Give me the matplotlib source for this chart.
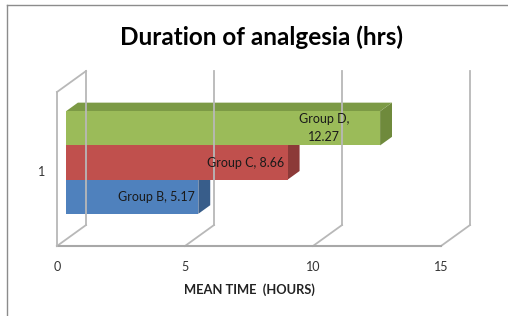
"""Duration of analgesia - Excel-style 3D horizontal bar chart."""

import matplotlib
matplotlib.use("Agg")
import matplotlib.pyplot as plt
from matplotlib.patches import Polygon
from matplotlib.lines import Line2D

# Data
groups = ["Group B", "Group C", "Group D"]
mean_hours = [5.17, 8.66, 12.27]
category_labels = ["1"]
x_ticks = [0, 5, 10, 15]
front_colors = ["#4F81BD", "#C0504D", "#9BBB59"]
side_colors = ["#385D8A", "#8C3A38", "#6F8A3C"]
top_colors = ["#44709F", "#A64542", "#7C9A45"]

plt.rcParams["font.family"] = ["Lato", "DejaVu Sans"]

# 3D projection parameters (depth shift in data units)
DX = 1.133   # hours shifted to the right per full depth
DY = 0.136   # height units shifted up per full depth
BAR_D0, BAR_D1 = 0.31, 0.72
GAP = 0.167


def proj(x, h, d):
    return (x + d * DX, h + d * DY)


fig = plt.figure(figsize=(5.08, 3.16), dpi=100)
ax = fig.add_axes([0, 0, 1, 1])
ax.set_xlim(-57 / 25.6, (508 - 57) / 25.6)
ax.set_ylim(-70 / 154, 246 / 154)
ax.axis("off")

grid_c = "#B8B8B8"
xmax = x_ticks[-1]

# back wall verticals and floor diagonals
for t in x_ticks:
    ax.add_line(Line2D(*zip(proj(t, 0, 1), proj(t, 1, 1)), color=grid_c, lw=1.3))
    ax.add_line(Line2D(*zip(proj(t, 0, 0), proj(t, 0, 1)), color=grid_c, lw=1.3))
# front floor line
ax.add_line(Line2D(*zip(proj(0, 0, 0), proj(xmax, 0, 0)), color="#A8A8A8", lw=1.5))
# left wall
ax.add_line(Line2D(*zip(proj(0, 0, 0), proj(0, 1, 0)), color=grid_c, lw=1.3))
ax.add_line(Line2D(*zip(proj(0, 1, 0), proj(0, 1, 1)), color=grid_c, lw=1.3))

# bars
bar_h = (1 - 2 * GAP) / len(mean_hours)
for i, v in enumerate(mean_hours):
    b = GAP + i * bar_h
    t = b + bar_h
    front = [proj(0, b, BAR_D0), proj(v, b, BAR_D0), proj(v, t, BAR_D0), proj(0, t, BAR_D0)]
    side = [proj(v, b, BAR_D0), proj(v, b, BAR_D1), proj(v, t, BAR_D1), proj(v, t, BAR_D0)]
    top = [proj(0, t, BAR_D0), proj(v, t, BAR_D0), proj(v, t, BAR_D1), proj(0, t, BAR_D1)]
    ax.add_patch(Polygon(side, closed=True, facecolor=side_colors[i], edgecolor="none"))
    ax.add_patch(Polygon(top, closed=True, facecolor=top_colors[i], edgecolor="none"))
    ax.add_patch(Polygon(front, closed=True, facecolor=front_colors[i], edgecolor="none"))

    cx, cy = proj(v, (b + t) / 2, BAR_D0)
    if v > 10:
        ax.text(cx - 2.2, cy, f"{groups[i]},\n{v:.2f}", ha="center", va="center",
                fontsize=9, color="#1A1A1A", linespacing=1.6)
    else:
        ax.text(cx - 0.12, cy, f"{groups[i]}, {v:.2f}", ha="right", va="center",
                fontsize=9, color="#1A1A1A")

# tick labels
for t in x_ticks:
    ax.text(t, -0.136, str(t), ha="center", va="center", fontsize=9, color="#333333")
ax.text(-0.62, 0.48, category_labels[0], ha="center", va="center", fontsize=9, color="#333333")

ax.text(7.5, -0.286, "MEAN TIME  (HOURS)", ha="center", va="center",
        fontsize=9.3, fontweight="bold", color="#222222")
ax.text(7.97, 1.357, "Duration of analgesia (hrs)", ha="center", va="center",
        fontsize=17.5, fontweight="bold", color="#000000")

# outer chart border (top and left visible)
fig.add_artist(Line2D([7 / 508, 7 / 508], [0, 1 - 5 / 316], transform=fig.transFigure,
                      color="#8C8C8C", lw=1.0))
fig.add_artist(Line2D([7 / 508, 1], [1 - 5 / 316, 1 - 5 / 316], transform=fig.transFigure,
                      color="#8C8C8C", lw=1.0))

fig.savefig("out.png", dpi=100)
